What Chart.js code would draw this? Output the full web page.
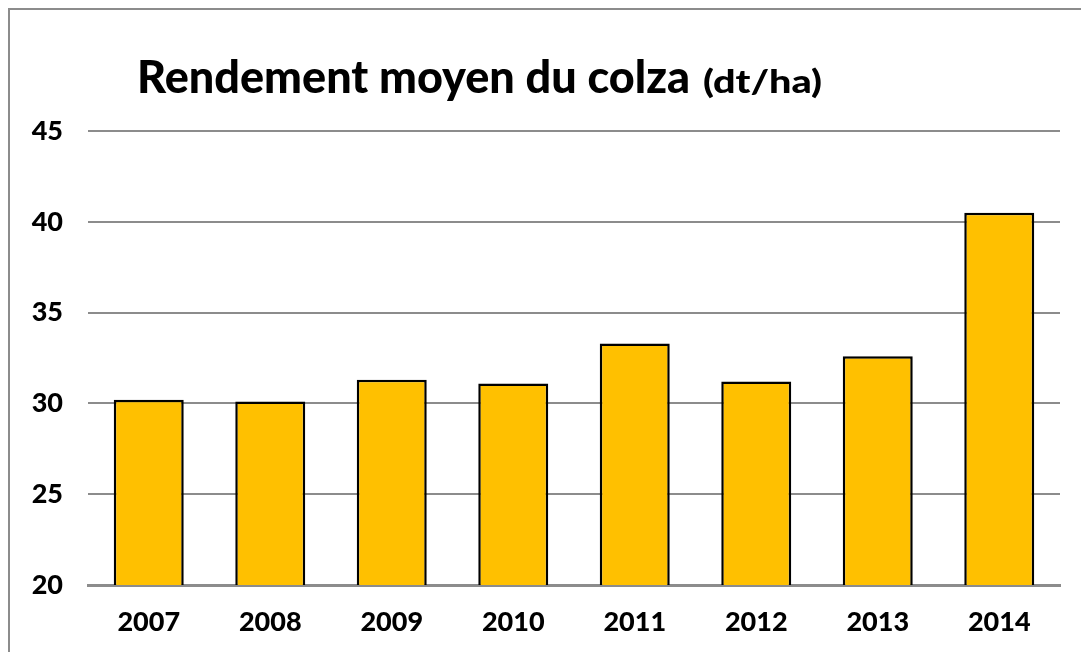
<!DOCTYPE html>
<html><head><meta charset="utf-8">
<script src="https://cdn.jsdelivr.net/npm/chart.js@4/dist/chart.umd.min.js"></script>
<style>
html,body{margin:0;padding:0;background:#fff;}
#wrap{position:relative;width:1081px;height:652px;overflow:hidden;}
#frame{position:absolute;left:8px;top:8px;width:1200px;height:800px;border:2px solid #8c8c8c;box-sizing:border-box;}
canvas{position:absolute;left:0;top:0;}
</style></head>
<body><div id="wrap"><div id="frame"></div><canvas id="c" width="1081" height="652"></canvas></div>
<script>
const categories = ['2007','2008','2009','2010','2011','2012','2013','2014'];
const yields = [30.2, 30.1, 31.3, 31.1, 33.3, 31.2, 32.6, 40.5];
const titleMain = 'Rendement moyen du colza';
const titleUnit = '(dt/ha)';
const yMin = 20, yMax = 45, yStep = 5;

const FONT = 'Lato, "Open Sans", sans-serif';

const titlePlugin = {
  id: 'titlePlugin',
  afterDraw(chart) {
    const ctx = chart.ctx;
    ctx.save();
    ctx.fillStyle = '#000';
    ctx.textBaseline = 'alphabetic';
    ctx.font = '900 46px ' + FONT;
    let w = ctx.measureText(titleMain).width;
    let sx = 553 / w;
    ctx.save(); ctx.translate(137, 93); ctx.scale(sx, 1); ctx.fillText(titleMain, 0, 0); ctx.restore();
    ctx.font = '900 32px ' + FONT;
    w = ctx.measureText(titleUnit).width;
    sx = 119 / w;
    ctx.save(); ctx.translate(703, 93); ctx.scale(sx, 1); ctx.fillText(titleUnit, 0, 0); ctx.restore();
    ctx.restore();
  }
};

new Chart(document.getElementById('c'), {
  type: 'bar',
  data: {
    labels: categories,
    datasets: [{
      data: yields,
      backgroundColor: '#FFC000',
      borderColor: '#000',
      borderWidth: 2.5,
      borderSkipped: 'bottom',
      categoryPercentage: 1,
      barPercentage: 0.576
    }]
  },
  options: {
    responsive: false,
    animation: false,
    devicePixelRatio: 1,
    layout: { padding: { top: 131, right: 21, left: 0, bottom: 0 } },
    plugins: { legend: { display: false }, title: { display: false }, tooltip: { enabled: false } },
    scales: {
      x: {
        grid: { display: false, drawTicks: false },
        border: { display: true, color: '#8c8c8c', width: 3 },
        ticks: { color: '#000', font: { family: FONT, weight: '900', size: 27 }, padding: 21 },
        afterFit(s) { s.height = 67; }
      },
      y: {
        min: yMin, max: yMax,
        ticks: { stepSize: yStep, color: '#000', font: { family: FONT, weight: '900', size: 27 }, padding: 25 },
        grid: { color: '#8c8c8c', lineWidth: 2, drawTicks: false },
        border: { display: false },
        afterFit(s) { s.width = 88; }
      }
    }
  },
  plugins: [titlePlugin]
});
</script></body></html>
